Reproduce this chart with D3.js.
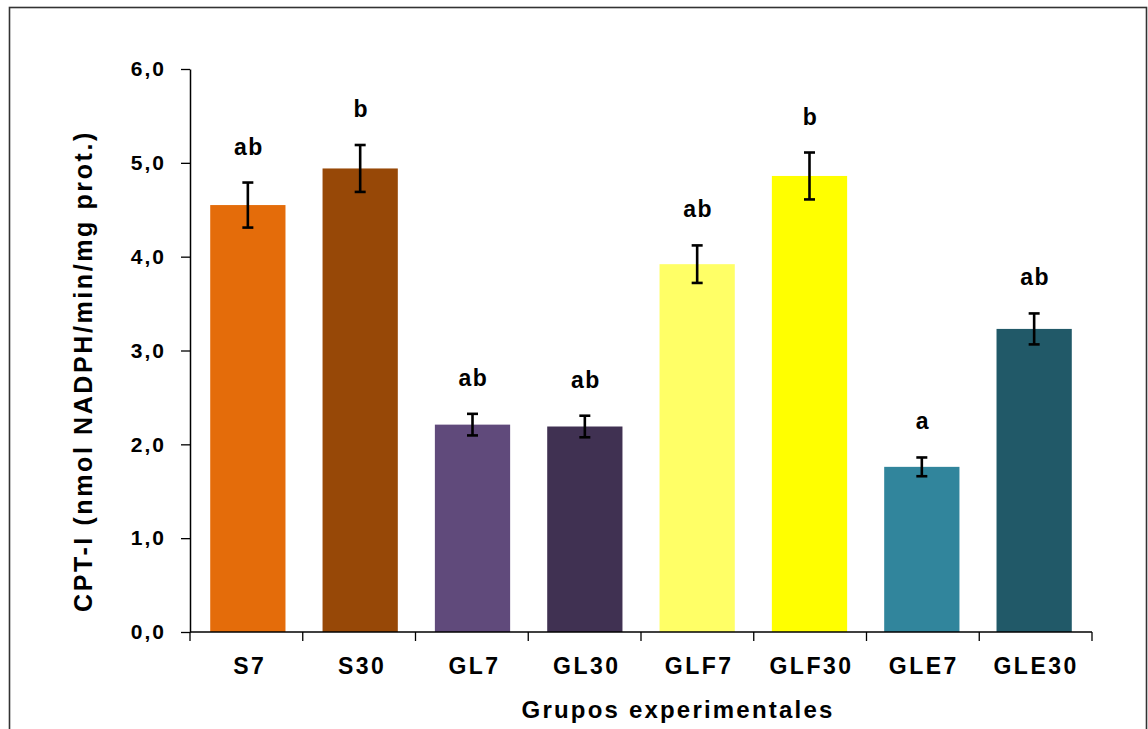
<!DOCTYPE html>
<html>
<head>
<meta charset="utf-8">
<script src="https://cdn.jsdelivr.net/npm/d3@7/dist/d3.min.js"></script>
<style>
  html, body { margin: 0; padding: 0; background: #ffffff; }
  svg { display: block; }
  text { font-family: "Liberation Sans", Arial, sans-serif; font-weight: bold; fill: #000; }
</style>
</head>
<body>
<svg id="chart" width="1148" height="729"></svg>
<script>
// CPT-I activity by experimental group (mean ± error)
const categories = ["S7", "S30", "GL7", "GL30", "GLF7", "GLF30", "GLE7", "GLE30"];
const values     = [4.55, 4.94, 2.21, 2.19, 3.92, 4.86, 1.76, 3.23];
const errors     = [0.24, 0.25, 0.115, 0.115, 0.20, 0.25, 0.10, 0.165];
const letters    = ["ab", "b", "ab", "ab", "ab", "b", "a", "ab"];
const colors     = ["#E46C0A", "#974807", "#604A7B", "#403152", "#FFFF66", "#FFFF00", "#31859C", "#215968"];
const yTicks     = [0, 1, 2, 3, 4, 5, 6];

const svg = d3.select("#chart");

// outer frame
svg.append("rect")
  .attr("x", 9.5).attr("y", 7.5)
  .attr("width", 1137).attr("height", 740)
  .attr("fill", "#fff")
  .attr("stroke", "#333").attr("stroke-width", 1.6);

const plotLeft = 190, plotRight = 1092, plotTop = 69, plotBottom = 632;

const x = d3.scaleBand()
  .domain(categories)
  .range([plotLeft, plotRight])
  .paddingInner(0.33)
  .paddingOuter(0.18);

const y = d3.scaleLinear()
  .domain([0, 6])
  .range([plotBottom, plotTop]);

const locale = d3.formatLocale({ decimal: ",", thousands: ".", grouping: [3], currency: ["", "€"] });
const fmt = locale.format(".1f");

// bars
svg.append("g").selectAll("rect")
  .data(categories)
  .join("rect")
  .attr("x", d => x(d))
  .attr("y", (d, i) => y(values[i]))
  .attr("width", x.bandwidth())
  .attr("height", (d, i) => y(0) - y(values[i]))
  .attr("fill", (d, i) => colors[i]);

// error bars
const capHalf = 5.5;
const eb = svg.append("g")
  .attr("stroke", "#000").attr("stroke-width", 2.6).attr("fill", "none");
categories.forEach((c, i) => {
  const cx = x(c) + x.bandwidth() / 2;
  const y1 = y(values[i] + errors[i]);
  const y2 = y(values[i] - errors[i]);
  eb.append("line").attr("x1", cx).attr("x2", cx).attr("y1", y1).attr("y2", y2);
  eb.append("line").attr("x1", cx - capHalf).attr("x2", cx + capHalf).attr("y1", y1).attr("y2", y1);
  eb.append("line").attr("x1", cx - capHalf).attr("x2", cx + capHalf).attr("y1", y2).attr("y2", y2);
});

// significance letters
svg.append("g").selectAll("text")
  .data(categories)
  .join("text")
  .attr("x", d => x(d) + x.bandwidth() / 2 + 1)
  .attr("y", (d, i) => y(values[i] + errors[i]) - 28)
  .attr("text-anchor", "middle")
  .attr("font-size", 23)
  .attr("letter-spacing", 1.5)
  .text((d, i) => letters[i]);

// y axis
const yAxis = svg.append("g")
  .attr("transform", `translate(${plotLeft},0)`)
  .call(d3.axisLeft(y).tickValues(yTicks).tickFormat(fmt).tickSize(9).tickPadding(15).tickSizeOuter(0));
yAxis.select(".domain").attr("stroke", "#000").attr("stroke-width", 1.5);
yAxis.selectAll(".tick line").attr("stroke", "#000").attr("stroke-width", 1.3);
yAxis.selectAll(".tick text")
  .attr("fill", "#000")
  .style("font-size", "21px")
  .style("letter-spacing", "2px")
  .style("font-family", "'Liberation Sans', Arial, sans-serif")
  .style("font-weight", "bold");

// x axis: baseline with tick marks at category boundaries
const xg = svg.append("g");
xg.append("line")
  .attr("x1", plotLeft).attr("x2", plotRight)
  .attr("y1", y(0)).attr("y2", y(0))
  .attr("stroke", "#000").attr("stroke-width", 1.5);
const bounds = d3.range(categories.length + 1).map(k => plotLeft + k * (plotRight - plotLeft) / categories.length);
xg.selectAll("line.tk")
  .data(bounds)
  .join("line")
  .attr("class", "tk")
  .attr("x1", d => d).attr("x2", d => d)
  .attr("y1", y(0)).attr("y2", y(0) + 9)
  .attr("stroke", "#000").attr("stroke-width", 1.3);

xg.selectAll("text")
  .data(categories)
  .join("text")
  .attr("x", d => x(d) + x.bandwidth() / 2 + 2)
  .attr("y", y(0) + 42)
  .attr("text-anchor", "middle")
  .attr("font-size", 23)
  .attr("letter-spacing", 2.5)
  .text(d => d);

// axis titles
svg.append("text")
  .attr("x", 678).attr("y", 718)
  .attr("text-anchor", "middle")
  .attr("font-size", 24)
  .attr("letter-spacing", 2.2)
  .text("Grupos experimentales");

svg.append("text")
  .attr("transform", "translate(92,612) rotate(-90)")
  .attr("text-anchor", "start")
  .attr("font-size", 25)
  .attr("letter-spacing", 2.6)
  .text("CPT-I (nmol NADPH/min/mg prot.)");
</script>
</body>
</html>
